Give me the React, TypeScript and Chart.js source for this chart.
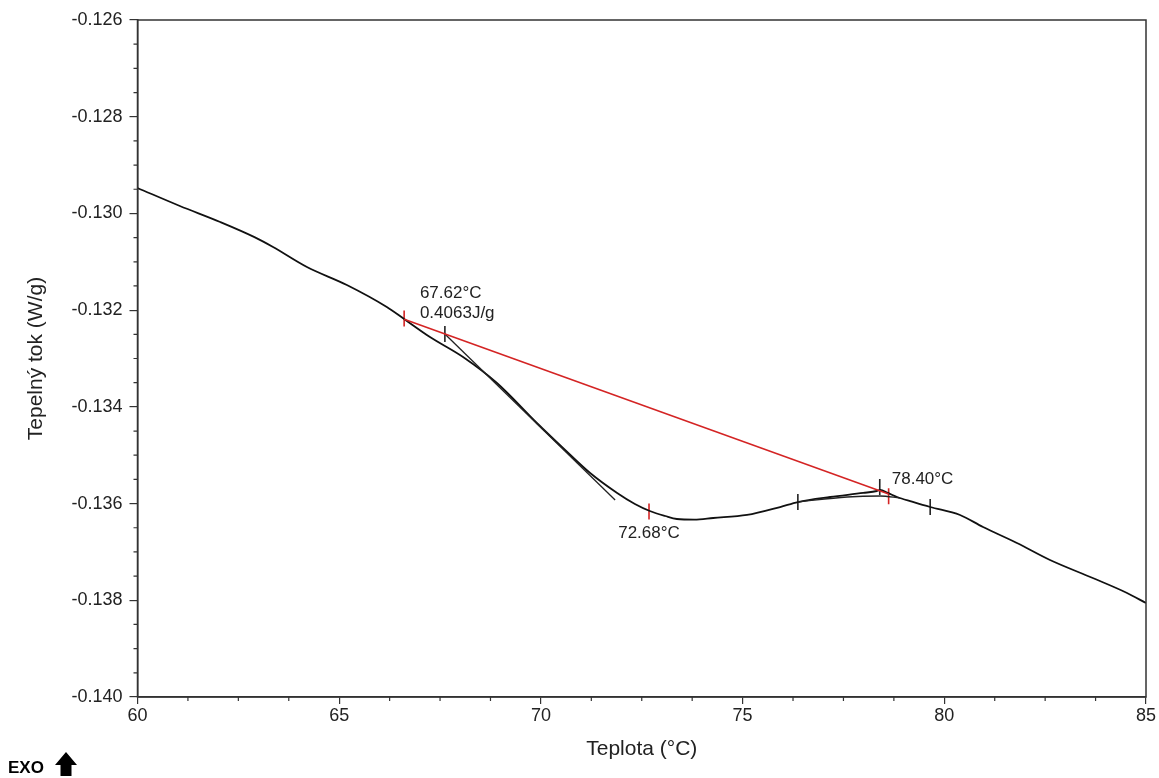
import React, { useEffect, useRef } from "react";
import { Chart, registerables } from "chart.js";
Chart.register(...registerables);

// Main DSC curve
const temperature = [
  60.0, 61.05, 62.05, 62.9, 63.36, 64.2, 65.19, 66.18, 66.61, 67.25, 68.07, 68.91,
  69.9, 70.6, 71.22, 71.89, 72.33, 72.7, 73.08, 73.37, 73.8, 74.27, 75.11, 75.93,
  76.37, 77.17, 77.99, 78.33, 78.41, 78.6, 78.83, 79.2, 79.65, 80.39, 80.96, 81.8,
  82.62, 83.68, 84.53, 85.0,
];
const heatFlow = [
  -0.129474, -0.129846, -0.130177, -0.13049, -0.130694, -0.131108, -0.13148,
  -0.131935, -0.132183, -0.132555, -0.132969, -0.133507, -0.134334, -0.134892,
  -0.135368, -0.135781, -0.136009, -0.136154, -0.136257, -0.136319, -0.13633,
  -0.136298, -0.136236, -0.136071, -0.135968, -0.135864, -0.135781, -0.13574,
  -0.135719, -0.13578, -0.135864, -0.13596, -0.136071, -0.136236, -0.136485,
  -0.136815, -0.137167, -0.137539, -0.137849, -0.138056,
];
// Secondary line under the small peak
const shoulderT = [76.37, 77.59, 78.41, 78.9];
const shoulderF = [-0.135968, -0.135864, -0.135843, -0.135885];
// Integration baseline (red)
const baselineT = [66.61, 78.62];
const baselineF = [-0.13219, -0.1358];
// Onset tangent
const tangentT = [67.62, 71.84];
const tangentF = [-0.132494, -0.135926];
// Markers
const redMarkT = [66.61, 72.68, 78.62];
const redMarkF = [-0.132173, -0.136164, -0.13585];
const blackMarkT = [67.62, 76.37, 78.4, 79.65];
const blackMarkF = [-0.132494, -0.135968, -0.135657, -0.136071];
// Annotation texts
const onsetLabel = ["67.62°C", "0.4063J/g"];
const peakLabel = "72.68°C";
const peak2Label = "78.40°C";
// Axis
const xMin = 60, xMax = 85, xMajor = 5, xMinor = 1.25;
const yMin = -0.14, yMax = -0.126, yMajor = 0.002, yMinor = 0.0005;
const xTitle = "Teplota (°C)";
const yTitle = "Tepelný tok (W/g)";

const FONT = "'Liberation Sans', Arial, sans-serif";

const pts = (xs: number[], ys: number[]) => xs.map((x, i) => ({ x, y: ys[i] }));

export default function App() {
  const ref = useRef<HTMLCanvasElement | null>(null);
  useEffect(() => {
    if (!ref.current) return;
    const extras = {
      id: "extras",
      afterDraw(chart: any) {
        const { ctx, chartArea: a, scales } = chart;
        const xs = scales.x, ys = scales.y;
        ctx.save();
        ctx.strokeStyle = "#333";
        ctx.lineWidth = 1.5;
        ctx.strokeRect(a.left, a.top, a.right - a.left, a.bottom - a.top);
        // minor ticks
        ctx.lineWidth = 1.2;
        ctx.beginPath();
        for (let v = xMin; v <= xMax + 1e-9; v += xMinor) {
          if (Math.abs(v / xMajor - Math.round(v / xMajor)) < 1e-6) continue;
          const px = xs.getPixelForValue(v);
          ctx.moveTo(px, a.bottom);
          ctx.lineTo(px, a.bottom + 4);
        }
        for (let k = 0; k <= Math.round((yMax - yMin) / yMinor); k++) {
          const v = yMin + k * yMinor;
          if (k % Math.round(yMajor / yMinor) === 0) continue;
          const py = ys.getPixelForValue(v);
          ctx.moveTo(a.left, py);
          ctx.lineTo(a.left - 4, py);
        }
        ctx.stroke();
        // annotations
        ctx.fillStyle = "#222";
        ctx.font = `17px ${FONT}`;
        ctx.textBaseline = "middle";
        ctx.textAlign = "left";
        const ox = xs.getPixelForValue(blackMarkT[0]);
        const oy = ys.getPixelForValue(blackMarkF[0]);
        ctx.fillText(onsetLabel[0], ox - 25, oy - 41);
        ctx.fillText(onsetLabel[1], ox - 25, oy - 21);
        const px = xs.getPixelForValue(redMarkT[1]);
        const py = ys.getPixelForValue(redMarkF[1]);
        ctx.textAlign = "center";
        ctx.fillText(peakLabel, px, py + 22);
        const qx = xs.getPixelForValue(blackMarkT[2]);
        const qy = ys.getPixelForValue(blackMarkF[2]);
        ctx.textAlign = "left";
        ctx.fillText(peak2Label, qx + 12, qy - 8);
        // EXO
        ctx.fillStyle = "#000";
        ctx.font = `bold 17px ${FONT}`;
        ctx.textAlign = "left";
        ctx.fillText("EXO", 8, 768);
        ctx.beginPath();
        ctx.moveTo(66, 752);
        ctx.lineTo(77, 765);
        ctx.lineTo(71.5, 765);
        ctx.lineTo(71.5, 776);
        ctx.lineTo(60.5, 776);
        ctx.lineTo(60.5, 765);
        ctx.lineTo(55, 765);
        ctx.closePath();
        ctx.fill();
        ctx.restore();
      },
    };
    const marker = (xs: number[], ys: number[], color: string) => ({
      data: pts(xs, ys),
      showLine: false,
      pointStyle: "line",
      pointRadius: 8,
      pointRotation: 90,
      pointBorderColor: color,
      pointBackgroundColor: color,
      pointBorderWidth: 1.6,
      borderColor: color,
    });
    const chart = new Chart(ref.current, {
      type: "line",
      data: {
        datasets: [
          {
            data: pts(baselineT, baselineF),
            borderColor: "#d42424",
            borderWidth: 1.6,
            pointRadius: 0,
          },
          {
            data: pts(tangentT, tangentF),
            borderColor: "#222",
            borderWidth: 1.3,
            pointRadius: 0,
          },
          {
            data: pts(shoulderT, shoulderF),
            borderColor: "#222",
            borderWidth: 1.3,
            pointRadius: 0,
            cubicInterpolationMode: "monotone",
          },
          {
            data: pts(temperature, heatFlow),
            borderColor: "#111",
            borderWidth: 1.8,
            pointRadius: 0,
            cubicInterpolationMode: "monotone",
          },
          marker(redMarkT, redMarkF, "#d42424") as any,
          marker(blackMarkT, blackMarkF, "#222") as any,
        ],
      },
      options: {
        responsive: false,
        animation: false,
        layout: { padding: { top: 20, right: 13, left: 0, bottom: 0 } },
        plugins: { legend: { display: false }, tooltip: { enabled: false } },
        scales: {
          x: {
            type: "linear",
            min: xMin,
            max: xMax,
            afterFit: (s: any) => { s.height = 81; },
            ticks: {
              stepSize: xMajor,
              autoSkip: false,
              maxRotation: 0,
              padding: 1,
              color: "#222",
              font: { family: FONT, size: 18 },
            },
            grid: { drawOnChartArea: false, drawTicks: true, tickLength: 7, color: "#333", lineWidth: 1.2 },
            border: { display: true, color: "#333", width: 1.5 },
            title: {
              display: true,
              text: xTitle,
              color: "#222",
              font: { family: FONT, size: 21 },
              padding: { top: 0, bottom: 16 },
            },
          },
          y: {
            type: "linear",
            min: yMin,
            max: yMax,
            afterFit: (s: any) => { s.width = 137.5; },
            ticks: {
              stepSize: yMajor,
              autoSkip: false,
              padding: 7,
              color: "#222",
              font: { family: FONT, size: 18 },
              callback: (v: any) => Number(v).toFixed(3),
            },
            grid: { drawOnChartArea: false, drawTicks: true, tickLength: 8, color: "#333", lineWidth: 1.2 },
            border: { display: true, color: "#333", width: 1.5 },
            title: {
              display: true,
              text: yTitle,
              color: "#222",
              font: { family: FONT, size: 21 },
              padding: { top: 24, bottom: 0 },
            },
          },
        },
      } as any,
      plugins: [extras],
    });
    return () => chart.destroy();
  }, []);
  return (
    <div style={{ position: "absolute", left: 0, top: 0, width: 1159, height: 778, background: "#fff" }}>
      <canvas ref={ref} width={1159} height={778} style={{ display: "block" }} />
    </div>
  );
}
